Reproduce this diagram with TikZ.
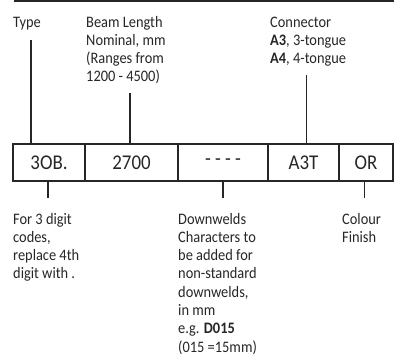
\documentclass[tikz,border=0pt]{standalone}
\usepackage{fontspec}
\setmainfont{Carlito}
\newfontfamily\estrecha[FakeStretch=0.9]{Carlito}
\begin{document}
\begin{tikzpicture}[x=1pt,y=-1pt,
    texto/.style={anchor=base west, align=left, inner sep=0pt,
      font=\estrecha\fontsize{16}{18.3}\selectfont, text=black!85},
    celda/.style={draw=black!85, line width=1.8pt, minimum height=37pt,
      inner sep=0pt, font=\estrecha\fontsize{21}{24}\selectfont, text=black!85},
    linea/.style={draw=black!85, line width=1.8pt}]
  \useasboundingbox (0,0) rectangle (396,359);

  % Linea superior
  \coordinate (izq) at (14,1);
  \coordinate (der) at (394,1);
  \draw[linea] (izq) -- (der);

  % Textos de arriba (anclados en la base de la ultima linea)
  \node[texto] (tipo) at (13,27) {Type};
  \node[texto] (largo) at (86,81.9) {Beam Length\\Nominal, mm\\(Ranges from\\1200 - 4500)};
  \node[texto] (conector) at (270,63.6) {Connector\\\textbf{A3}, 3-tongue\\\textbf{A4}, 4-tongue};

  % Casillas del codigo
  \node[celda, minimum width=72pt] (c1) at (49,162.5) {3OB.};
  \node[celda, minimum width=93pt] (c2) at (131.5,162.5) {2700};
  \node[celda, minimum width=90pt] (c3) at (223,162.5) {- - - -};
  \node[celda, minimum width=71pt] (c4) at (303.5,162.5) {A3T};
  \node[celda, minimum width=54pt] (c5) at (366,162.5) {OR};

  % Textos de abajo
  \node[texto] (digitos) at (13,278.9) {For 3 digit\\codes,\\replace 4th\\digit with .};
  \node[texto] (soldaduras) at (178,352.1) {Downwelds\\Characters to\\be added for\\non-standard\\downwelds,\\in mm\\e.g. \textbf{D015}\\(015 =15mm)};
  \node[texto] (color) at (342,242.3) {Colour\\Finish};

  % Lineas de arriba
  \coordinate (pTipo) at (31,40);
  \coordinate (pLargo) at (130,93);
  \coordinate (pConector) at (306.5,75);
  \draw[linea] (pTipo) -- (pTipo |- c1.north);
  \draw[linea] (pLargo) -- (pLargo |- c2.north);
  \draw[linea] (pConector) -- (pConector |- c4.north);

  % Lineas de abajo
  \coordinate (qDigitos) at (48,198);
  \coordinate (qSoldaduras) at (223,198);
  \coordinate (qColor) at (364.5,198);
  \draw[linea] (qDigitos |- c1.south) -- (qDigitos);
  \draw[linea] (qSoldaduras |- c3.south) -- (qSoldaduras);
  \draw[linea] (qColor |- c5.south) -- (qColor);
\end{tikzpicture}
\end{document}
